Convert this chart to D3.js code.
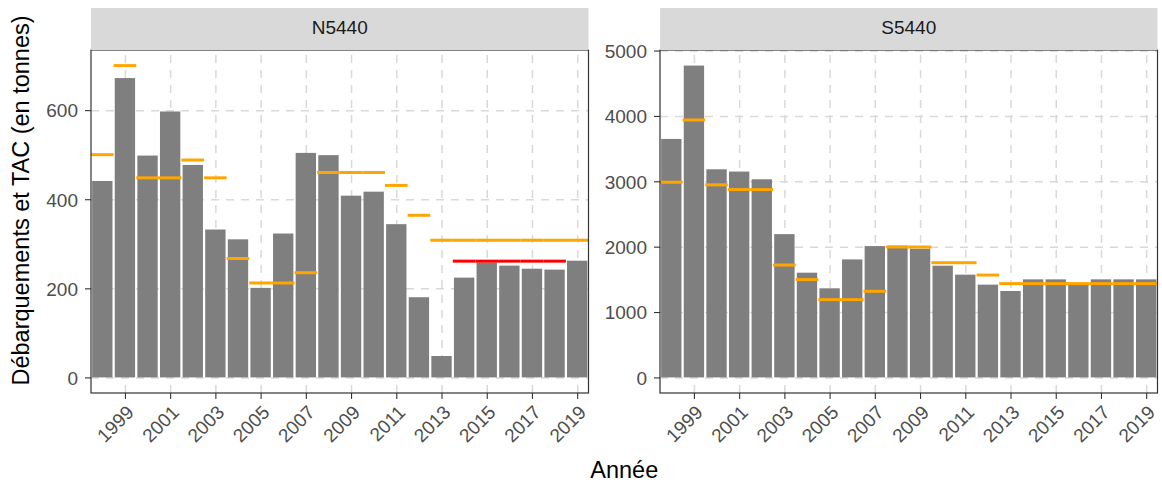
<!DOCTYPE html>
<html>
<head>
<meta charset="utf-8">
<script src="https://cdn.jsdelivr.net/npm/d3@7/dist/d3.min.js"></script>
<style>
  body { margin: 0; background: #fff; }
  svg { display: block; font-family: "Liberation Sans", Arial, sans-serif; }
  .grid line { stroke: #d9d9d9; stroke-width: 1.5; stroke-dasharray: 8, 7; }
  .grid path { display: none; }
  .axis path { display: none; }
  .axis line { stroke: #333; stroke-width: 1.1; }
  .axis text { fill: #4d4d4d; font-size: 19px; }
</style>
</head>
<body>
<div class="container"><svg></svg></div>
<script>
// data
const years = [1998, 1999, 2000, 2001, 2002, 2003, 2004, 2005, 2006, 2007, 2008,
  2009, 2010, 2011, 2012, 2013, 2014, 2015, 2016, 2017, 2018, 2019]
const tickYears = [1999, 2001, 2003, 2005, 2007, 2009, 2011, 2013, 2015, 2017, 2019]
const zones = ['N5440', 'S5440']

const landingsN = [441, 672, 498, 597, 477, 332, 310, 201, 323, 504, 499,
  408, 417, 344, 180, 48, 224, 258, 251, 244, 242, 262]
const tacN = [500, 700, 448, 448, 488, 448, 267, 212, 212, 235, 460,
  460, 460, 431, 364, 308, 308, 308, 308, 308, 308, 308]
const tacRedYears = [2014, 2015, 2016, 2017, 2018]
const tacRedN = [261, 261, 261, 261, 261]

const landingsS = [3648, 4770, 3184, 3149, 3031, 2192, 1602, 1363, 1805, 2009, 2015,
  1969, 1709, 1572, 1419, 1322, 1500, 1500, 1432, 1500, 1500, 1500]
const tacS = [2986, 3938, 2946, 2874, 2874, 1719, 1496, 1190, 1190, 1317, 1995,
  1995, 1755, 1755, 1566, 1435, 1435, 1435, 1435, 1435, 1435, 1435]

const ticksN = [0, 200, 400, 600]
const ticksS = [0, 1000, 2000, 3000, 4000, 5000]

// selections
const $svg = d3.select('svg')

// dimensions
const width = 1162
const height = 485
const margin = { top: 8, bottom: 92, left: 91, right: 4.5 }
const panelGap = 71.5
const stripHeight = 42
const panelWidth = (width - margin.left - margin.right - panelGap) / 2
const panelTop = margin.top + stripHeight
const panelBottom = height - margin.bottom
const panelHeight = panelBottom - panelTop

// constants
const barWidth = 0.9
const tickLen = 6
const fontSize = 19

const panels = [
  { zone: zones[0], landings: landingsN, tac: tacN, redYears: tacRedYears, red: tacRedN, ticks: ticksN },
  { zone: zones[1], landings: landingsS, tac: tacS, redYears: [], red: [], ticks: ticksS }
]

function drawPanel(p, i){
  const x0 = margin.left + i * (panelWidth + panelGap)
  const $g = $svg.append('g').attr('transform', `translate(${x0}, ${panelTop})`)

  const scaleX = d3.scaleLinear()
    .domain([years[0] - 0.5, years[years.length - 1] + 0.5])
    .range([0, panelWidth])

  const max = d3.max([...p.landings, ...p.tac, ...p.red])
  const scaleY = d3.scaleLinear()
    .domain([-0.05 * max, 1.05 * max])
    .range([panelHeight, 0])

  // strip
  $svg.append('rect')
    .attr('x', x0).attr('y', margin.top)
    .attr('width', panelWidth).attr('height', stripHeight)
    .attr('fill', '#d9d9d9')
  $svg.append('text')
    .attr('x', x0 + panelWidth / 2).attr('y', margin.top + 26)
    .attr('text-anchor', 'middle')
    .attr('fill', '#1a1a1a')
    .style('font-size', fontSize + 'px')
    .text(p.zone)

  // grid
  $g.append('g').attr('class', 'grid')
    .call(d3.axisLeft(scaleY).tickValues(p.ticks).tickSize(-panelWidth).tickFormat(''))
  $g.append('g').attr('class', 'grid')
    .attr('transform', `translate(0, ${panelHeight})`)
    .call(d3.axisBottom(scaleX).tickValues(tickYears).tickSize(panelHeight).tickFormat(''))
    .selectAll('line').attr('y2', -panelHeight)

  // bars
  $g.selectAll('.bar')
    .data(years.map((y, k) => ({ year: y, value: p.landings[k] })))
    .enter().append('rect')
    .attr('class', 'bar')
    .attr('x', d => scaleX(d.year - barWidth / 2))
    .attr('width', d => scaleX(d.year + barWidth / 2) - scaleX(d.year - barWidth / 2))
    .attr('y', d => scaleY(d.value))
    .attr('height', d => scaleY(0) - scaleY(d.value))
    .attr('fill', '#7f7f7f')

  // TAC
  $g.selectAll('.tac')
    .data(years.map((y, k) => ({ year: y, value: p.tac[k] })))
    .enter().append('line')
    .attr('class', 'tac')
    .attr('x1', d => scaleX(d.year - 0.5))
    .attr('x2', d => scaleX(d.year + 0.5))
    .attr('y1', d => scaleY(d.value))
    .attr('y2', d => scaleY(d.value))
    .attr('stroke', '#ffa500')
    .attr('stroke-width', 3)

  $g.selectAll('.tac-red')
    .data(p.redYears.map((y, k) => ({ year: y, value: p.red[k] })))
    .enter().append('line')
    .attr('class', 'tac-red')
    .attr('x1', d => scaleX(d.year - 0.5))
    .attr('x2', d => scaleX(d.year + 0.5))
    .attr('y1', d => scaleY(d.value))
    .attr('y2', d => scaleY(d.value))
    .attr('stroke', '#ff0000')
    .attr('stroke-width', 3)

  // border
  $g.append('rect')
    .attr('width', panelWidth).attr('height', panelHeight)
    .attr('fill', 'none').attr('stroke', '#333').attr('stroke-width', 1.2)

  // axes
  const $yAxis = $g.append('g').attr('class', 'axis')
    .call(d3.axisLeft(scaleY).tickValues(p.ticks).tickSize(tickLen).tickPadding(7).tickFormat(d => d))
  $yAxis.selectAll('text').attr('dy', '0.36em')

  const $xAxis = $g.append('g').attr('class', 'axis')
    .attr('transform', `translate(0, ${panelHeight})`)
    .call(d3.axisBottom(scaleX).tickValues(tickYears).tickSize(tickLen).tickFormat(d => d))
  $xAxis.selectAll('text')
    .attr('y', 0).attr('dy', 0)
    .attr('text-anchor', 'end')
    .attr('transform', `translate(9.6, 20.5) rotate(-45)`)
}

function setup(){
  $svg.attr('width', width).attr('height', height)
  $svg.append('rect').attr('width', width).attr('height', height).attr('fill', '#fff')

  panels.forEach(drawPanel)

  // axis titles
  $svg.append('text')
    .attr('x', margin.left + panelWidth + panelGap / 2)
    .attr('y', 478)
    .attr('text-anchor', 'middle')
    .style('font-size', '23.5px')
    .text('Année')

  $svg.append('text')
    .attr('transform', `translate(29, ${(margin.top + panelBottom) / 2}) rotate(-90)`)
    .attr('text-anchor', 'middle')
    .style('font-size', '23.5px')
    .text('Débarquements et TAC (en tonnes)')
}

setup()
</script>
</body>
</html>
